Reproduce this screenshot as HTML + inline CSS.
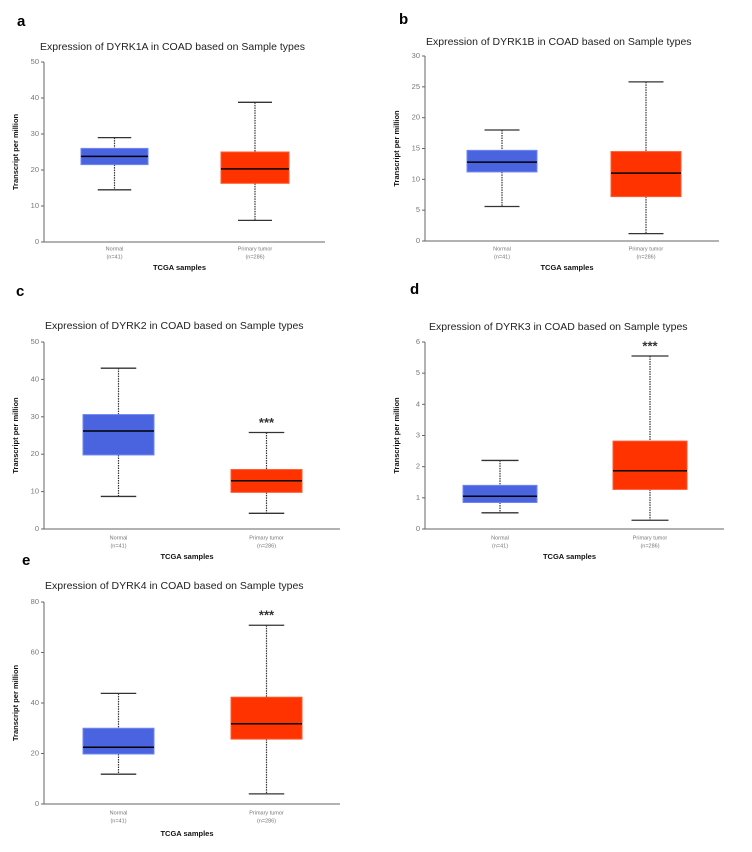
<!DOCTYPE html>
<html><head><meta charset="utf-8">
<style>
html,body{margin:0;padding:0;background:#fff;}
svg{display:block;font-family:"Liberation Sans",sans-serif;}
</style></head>
<body>
<svg id="fig" width="752" height="852" viewBox="0 0 752 852"></svg>
<script>
const categories = ["Normal", "Primary tumor"];
const catCounts = ["(n=41)", "(n=286)"];
const titles = ["Expression of DYRK1A in COAD based on Sample types","Expression of DYRK1B in COAD based on Sample types","Expression of DYRK2 in COAD based on Sample types","Expression of DYRK3 in COAD based on Sample types","Expression of DYRK4 in COAD based on Sample types"];
const panelLetters = ["a","b","c","d","e"];
// [min, q1, median, q3, max]
const normalA = [14.5, 21.5, 23.8, 26, 29];
const tumorA = [6, 16.3, 20.3, 25, 38.8];
const normalB = [5.6, 11.2, 12.8, 14.7, 18];
const tumorB = [1.2, 7.2, 11, 14.5, 25.8];
const normalC = [8.7, 19.8, 26.2, 30.6, 43];
const tumorC = [4.2, 9.8, 12.9, 15.9, 25.8];
const normalD = [0.52, 0.85, 1.05, 1.4, 2.2];
const tumorD = [0.28, 1.27, 1.87, 2.82, 5.55];
const normalE = [11.8, 19.8, 22.5, 30, 43.8];
const tumorE = [4, 25.7, 31.8, 42.3, 70.8];
const ticksA = [0,10,20,30,40,50];
const ticksB = [0,5,10,15,20,25,30];
const ticksC = [0,10,20,30,40,50];
const ticksD = [0,1,2,3,4,5,6];
const ticksE = [0,20,40,60,80];
const signif = ["", "", "***", "***", "***"];

const layouts = [
 {ax:44, top:62, zero:242, end:325, nb:[81,148], tb:[221,289], title:[40,47], letter:[17,22], cat:249, tcga:268},
 {ax:425, top:56, zero:241, end:719, nb:[467,537], tb:[611,681], title:[426,42], letter:[399,20], cat:249, tcga:268},
 {ax:44, top:342, zero:529, end:340, nb:[83,154], tb:[231,302], title:[45,326], letter:[16,292], cat:538, tcga:557},
 {ax:425, top:342, zero:529, end:724, nb:[463,537], tb:[613,687], title:[429,327], letter:[410,290], cat:538, tcga:557},
 {ax:44, top:602, zero:804, end:340, nb:[83,154], tb:[231,302], title:[45,586], letter:[22,561], cat:813, tcga:834}
];
const normals = [normalA, normalB, normalC, normalD, normalE];
const tumors = [tumorA, tumorB, tumorC, tumorD, tumorE];
const ticksAll = [ticksA, ticksB, ticksC, ticksD, ticksE];

const NS = "http://www.w3.org/2000/svg";
const svg = document.getElementById("fig");
function mk(tag, attrs, parent, text){
  const e = document.createElementNS(NS, tag);
  for (const k in attrs) e.setAttribute(k, attrs[k]);
  if (text !== undefined) e.textContent = text;
  parent.appendChild(e);
  return e;
}

for (let p = 0; p < 5; p++){
  const L = layouts[p];
  const ticks = ticksAll[p];
  const yMax = ticks[ticks.length-1];
  const y = v => L.zero - (v / yMax) * (L.zero - L.top);
  const g = mk("g", {}, svg);
  
  

  const lt = mk("text", {x:L.letter[0], y:L.letter[1], "font-size":15, "font-weight":"bold", "dominant-baseline":"middle", fill:"#000"}, g, panelLetters[p]);
  
  

  const tt = mk("text", {x:L.title[0], y:L.title[1], "font-size":10.5, "dominant-baseline":"middle", fill:"#222"}, g, titles[p]);
  
  

  // axes
  const ya = mk("line", {x1:L.ax, y1:L.top, x2:L.ax, y2:L.zero, stroke:"#666", "stroke-width":1}, g);
  
  
  const xa = mk("line", {x1:L.ax, y1:L.zero, x2:L.end, y2:L.zero, stroke:"#666", "stroke-width":1}, g);
  
  

  ticks.forEach(t => {
    mk("line", {x1:L.ax-3, y1:y(t), x2:L.ax, y2:y(t), stroke:"#666", "stroke-width":1}, g);
    const tl = mk("text", {x:L.ax-5, y:y(t), "font-size":7.5, "text-anchor":"end", "dominant-baseline":"middle", fill:"#777"}, g, String(t));
    
    
  });

  const yt = mk("text", {x:0, y:0, "font-size":7.5, "font-weight":"bold", "text-anchor":"middle", fill:"#111",
    transform:`translate(${L.ax-26},${(L.top+L.zero)/2}) rotate(-90)`}, g, "Transcript per million");
  
  

  const boxes = [[normals[p], L.nb, "#4a64e0", "#6f86f5"], [tumors[p], L.tb, "#ff3300", "#ff5a33"]];
  boxes.forEach((b, i) => {
    const [v, xs, fill, edge] = b;
    const cx = (xs[0] + xs[1]) / 2;
    const w = xs[1] - xs[0];
    const bg = mk("g", {}, g);
    
    
    mk("line", {x1:cx, y1:y(v[4]), x2:cx, y2:y(v[3]), stroke:"#333", "stroke-width":1.2, "stroke-dasharray":"1.5,1"}, bg);
    mk("line", {x1:cx, y1:y(v[1]), x2:cx, y2:y(v[0]), stroke:"#333", "stroke-width":1.2, "stroke-dasharray":"1.5,1"}, bg);
    mk("line", {x1:cx-w/4, y1:y(v[4]), x2:cx+w/4, y2:y(v[4]), stroke:"#333", "stroke-width":1.3}, bg);
    mk("line", {x1:cx-w/4, y1:y(v[0]), x2:cx+w/4, y2:y(v[0]), stroke:"#333", "stroke-width":1.3}, bg);
    mk("rect", {x:xs[0], y:y(v[3]), width:w, height:y(v[1])-y(v[3]), fill:fill, stroke:edge, "stroke-width":1}, bg);
    mk("line", {x1:xs[0], y1:y(v[2]), x2:xs[1], y2:y(v[2]), stroke:"#000", "stroke-width":1.5}, bg);
    if (i === 1 && signif[p]) {
      const s = mk("text", {x:cx, y:y(v[4]) - 9, "font-size":13, "font-weight":"bold", "text-anchor":"middle", "dominant-baseline":"middle", fill:"#333"}, bg, signif[p]);
      
      
    }
    const c1 = mk("text", {x:cx, y:L.cat, "font-size":5.5, "text-anchor":"middle", "dominant-baseline":"middle", fill:"#777"}, g, categories[i]);
    
    
    const c2 = mk("text", {x:cx, y:L.cat+8, "font-size":5.5, "text-anchor":"middle", "dominant-baseline":"middle", fill:"#777"}, g, catCounts[i]);
    
    
  });

  const xt = mk("text", {x:(L.ax+L.end)/2 - 5, y:L.tcga, "font-size":7.5, "font-weight":"bold", "text-anchor":"middle", "dominant-baseline":"middle", fill:"#111"}, g, "TCGA samples");
  
  
}
</script>
</body></html>
